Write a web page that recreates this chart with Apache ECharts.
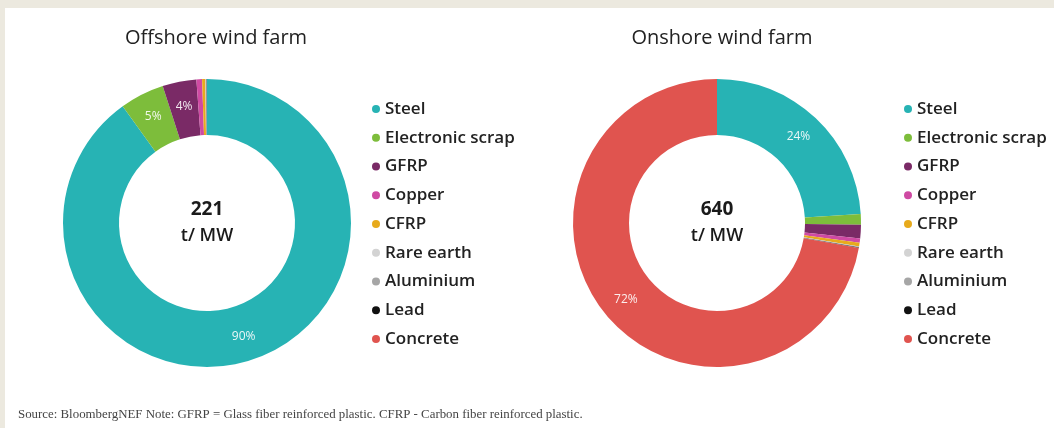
<!DOCTYPE html>
<html>
<head>
<meta charset="utf-8">
<script src="https://cdn.jsdelivr.net/npm/echarts@6/dist/echarts.min.js"></script>
<style>
  html, body { margin: 0; padding: 0; background: #ece9df; }
  #chart { position: absolute; left: 0; top: 0; width: 1054px; height: 428px; }
</style>
</head>
<body>
<div id="chart"></div>
<script>
// Material intensity of wind farms, tonnes per MW of capacity
const materials = ['Steel', 'Electronic scrap', 'GFRP', 'Copper', 'CFRP', 'Rare earth', 'Aluminium', 'Lead', 'Concrete'];
const materialColors = ['#27b3b4', '#7dbd3b', '#7a2a66', '#cf4aa3', '#e7aa1c', '#d3d3d3', '#a6a6a6', '#111111', '#e0544f'];
const offshoreValues = [199, 11, 8.4, 1.4, 0.8, 0.1, 0.25, 0.05, 0];
const onshoreValues = [153.6, 7.7, 9.6, 3.2, 2.6, 0.1, 0.6, 0.3, 462.3];
const offshoreLabelled = ['Steel', 'Electronic scrap', 'GFRP'];
const onshoreLabelled = ['Steel', 'Concrete'];
const chartTitles = ['Offshore wind farm', 'Onshore wind farm'];
const unitText = 't/ MW';
const footnote = 'Source: BloombergNEF Note: GFRP = Glass fiber reinforced plastic. CFRP - Carbon fiber reinforced plastic.';

const FONT = '"Open Sans", Lato, sans-serif';
const sum = arr => arr.reduce((a, b) => a + b, 0);

function pieData(values) {
  return materials.map((name, i) => ({ name, value: values[i], itemStyle: { color: materialColors[i] } }));
}

function pieSeries(values, labelled, cx) {
  const total = sum(values);
  return {
    type: 'pie',
    center: [cx, 223],
    radius: [88, 144],
    startAngle: 90,
    clockwise: true,
    avoidLabelOverlap: false,
    silent: true,
    animation: false,
    label: {
      show: true,
      position: 'inside',
      color: 'rgba(255,255,255,0.9)',
      fontFamily: FONT,
      fontSize: 12,
      formatter: p => labelled.includes(p.name) ? Math.round(p.value / total * 100) + '%' : ''
    },
    labelLine: { show: false },
    data: pieData(values)
  };
}

function legend(left) {
  return {
    orient: 'vertical',
    left: left,
    top: 94,
    icon: 'circle',
    itemWidth: 8,
    itemHeight: 8,
    itemGap: 8.75,
    selectedMode: false,
    textStyle: { fontFamily: FONT, fontSize: 17, fontWeight: 600, color: '#222', lineHeight: 20 },
    data: materials
  };
}

function centreText(cx, total) {
  return [
    { type: 'text', x: cx, y: 210, style: { text: String(Math.round(total)), fontFamily: FONT, fontWeight: 'bold', fontSize: 19, fill: '#1a1a1a', align: 'center', verticalAlign: 'middle' } },
    { type: 'text', x: cx, y: 236, style: { text: unitText, fontFamily: FONT, fontWeight: 600, fontSize: 18, fill: '#1a1a1a', align: 'center', verticalAlign: 'middle' } }
  ];
}

const chart = echarts.init(document.getElementById('chart'), null, { renderer: 'canvas' });
chart.setOption({
  animation: false,
  backgroundColor: '#ece9df',
  legend: [legend(367), legend(899)],
  graphic: [
    { type: 'rect', shape: { x: 5, y: 8, width: 1060, height: 430 }, style: { fill: '#ffffff' }, z: -10, silent: true },
    { type: 'text', x: 216, y: 38, style: { text: chartTitles[0], fontFamily: FONT, fontSize: 20, fontWeight: 500, fill: '#222', align: 'center', verticalAlign: 'middle' } },
    { type: 'text', x: 722, y: 38, style: { text: chartTitles[1], fontFamily: FONT, fontSize: 20, fontWeight: 500, fill: '#222', align: 'center', verticalAlign: 'middle' } },
    ...centreText(207, sum(offshoreValues)),
    ...centreText(717, sum(onshoreValues)),
    { type: 'text', x: 18, y: 415, scaleX: 0.99, style: { text: footnote, fontFamily: '"Liberation Serif", serif', fontSize: 13, fill: '#444', align: 'left', verticalAlign: 'middle' } }
  ],
  series: [
    pieSeries(offshoreValues, offshoreLabelled, 207),
    pieSeries(onshoreValues, onshoreLabelled, 717)
  ]
});
</script>
</body>
</html>
